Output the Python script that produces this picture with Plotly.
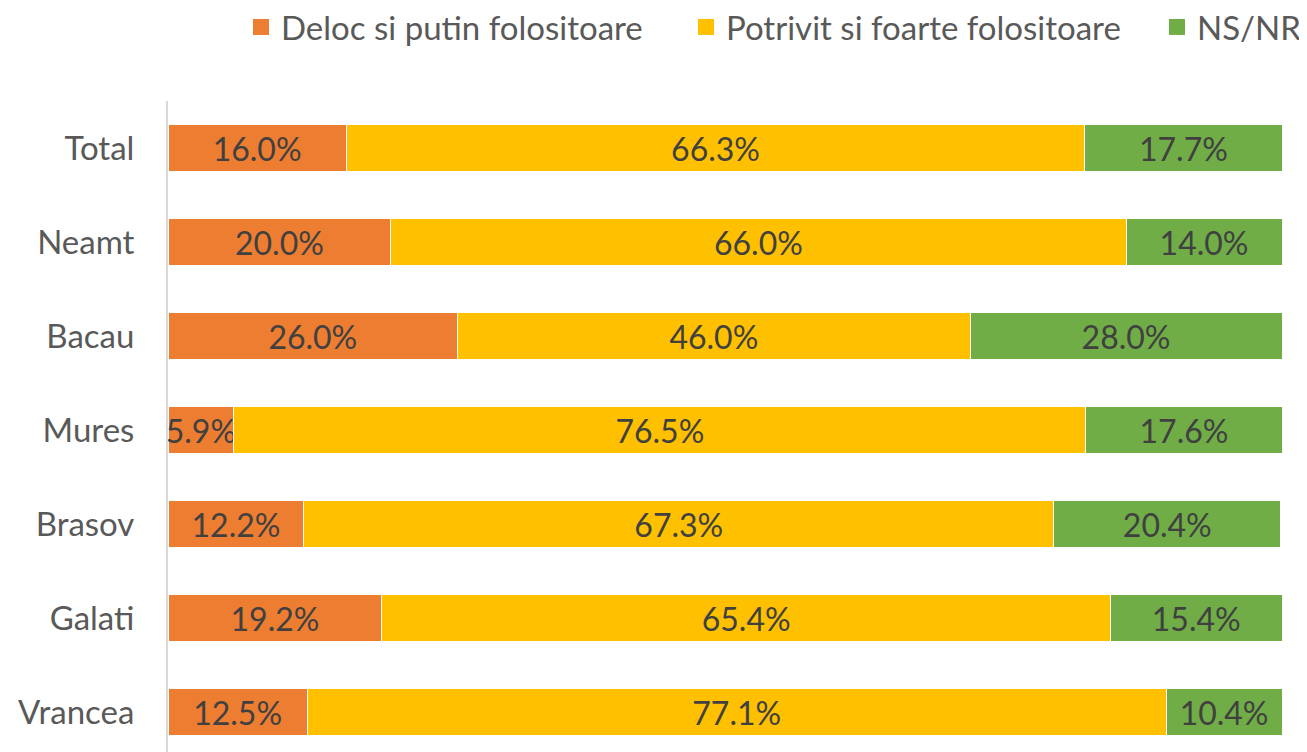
import plotly.graph_objects as go

categories = ["Total", "Neamt", "Bacau", "Mures", "Brasov", "Galati", "Vrancea"]
series_names = ["Deloc si putin folositoare", "Potrivit si foarte folositoare", "NS/NR"]
deloc = [16.0, 20.0, 26.0, 5.9, 12.2, 19.2, 12.5]
potrivit = [66.3, 66.0, 46.0, 76.5, 67.3, 65.4, 77.1]
nsnr = [17.7, 14.0, 28.0, 17.6, 20.4, 15.4, 10.4]
colors = ["#ED7D31", "#FFC000", "#70AD47"]

FONT = "Lato"
W, H = 1307, 752
OFF = 8  # page body margin offset

fig = go.Figure()
for name, vals, col in zip(series_names, [deloc, potrivit, nsnr], colors):
    fig.add_trace(go.Bar(
        y=categories, x=vals, name=name, orientation="h",
        marker=dict(color=col, line=dict(color="white", width=1)),
        text=[f"{v:.1f}%" for v in vals], textposition="inside",
        insidetextanchor="middle", constraintext="none",
        textfont=dict(family=FONT, size=32, color="#404040"),
        hoverinfo="skip", showlegend=False,
    ))

legend_names = ["legend", "legend2", "legend3"]
legend_left = [241, 686, 1157]
for name, col, lg in zip(series_names, colors, legend_names):
    fig.add_trace(go.Scatter(
        x=[None], y=[None], mode="markers", name=name, legend=lg,
        marker=dict(symbol="square", size=18, color=col),
        showlegend=True, hoverinfo="skip",
    ))

def legend_cfg(left):
    return dict(orientation="h", x=(left - OFF) / W, xref="container", xanchor="left",
                y=1 - (27 - OFF) / H, yref="container", yanchor="middle",
                font=dict(family=FONT, size=33, color="#595959"),
                itemsizing="trace", itemwidth=30, bgcolor="rgba(0,0,0,0)")

top = 101 - OFF
bottom_px = 752 - OFF
fig.update_layout(
    barmode="stack", bargap=0.49,
    width=W, height=H,
    margin=dict(l=168 - OFF, r=W - (1282 - OFF), t=top, b=H - bottom_px, autoexpand=False),
    plot_bgcolor="white", paper_bgcolor="white",
    font=dict(family=FONT, color="#595959"),
    showlegend=True,
    legend=legend_cfg(legend_left[0]),
    legend2=legend_cfg(legend_left[1]),
    legend3=legend_cfg(legend_left[2]),
)
fig.update_xaxes(range=[0, 100], visible=False, fixedrange=True)
fig.update_yaxes(
    categoryorder="array", categoryarray=categories,
    range=[-0.5 + (bottom_px - top) / 94, -0.5], automargin=False,
    showline=True, linecolor="#D9D9D9", linewidth=2,
    showgrid=False, ticks="", ticklabelstandoff=25,
    tickfont=dict(family=FONT, size=33, color="#595959"),
)
fig.write_html("out.html")
